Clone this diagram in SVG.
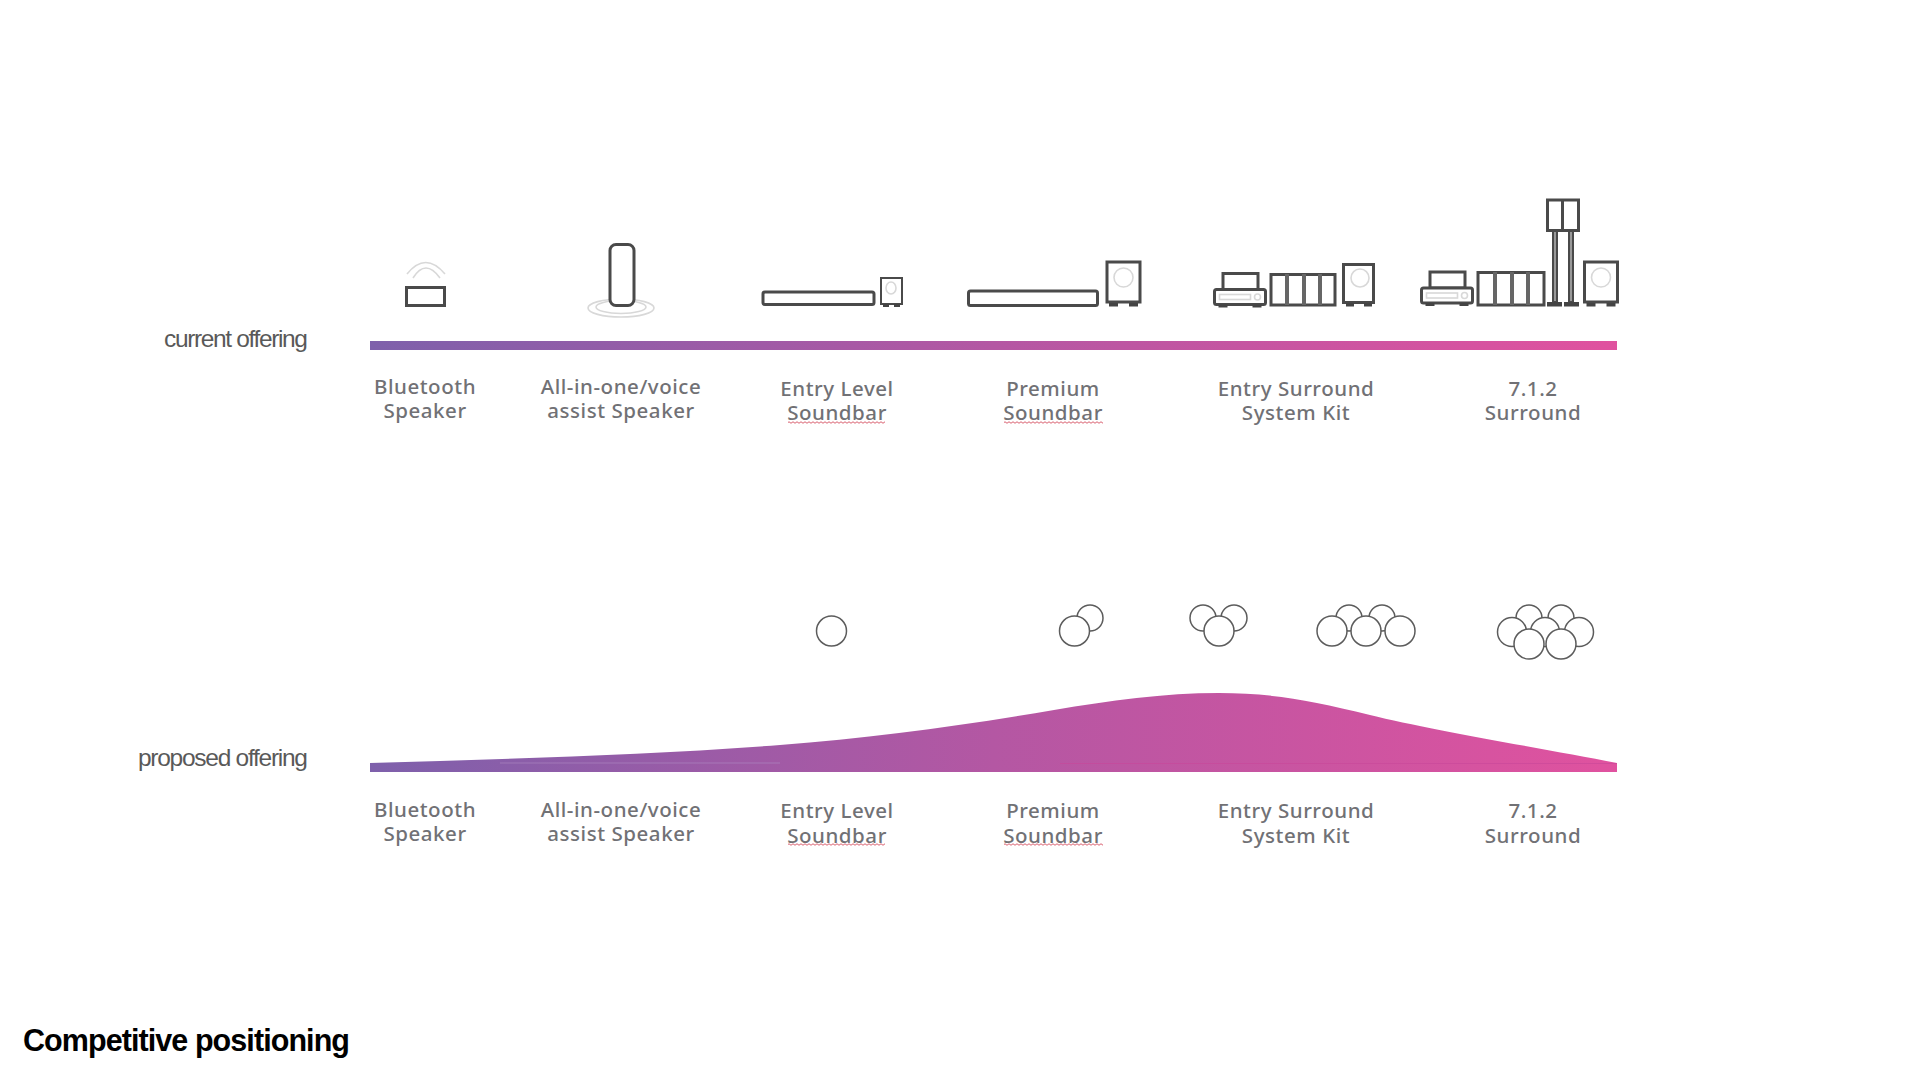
<svg xmlns="http://www.w3.org/2000/svg" width="1920" height="1080" viewBox="0 0 1920 1080">
<style>
.l{font-family:"Noto Sans","Liberation Sans",sans-serif;font-size:20.5px;font-weight:500;letter-spacing:.55px;fill:#717175;text-anchor:middle}
.o{font-family:"Liberation Sans",Arial,sans-serif;font-size:24.5px;fill:#595959;text-anchor:end}
.i{fill:#fff;stroke:#4a4a4a;stroke-width:3}
.d{fill:none;stroke:#666;stroke-width:4}
.g{fill:none;stroke:#d8d8d8;stroke-width:1.6}
.c{fill:#fff;stroke:#5c5c5c;stroke-width:1.5}
.f{fill:#444}
</style>
<defs>
<linearGradient id="bar" gradientUnits="userSpaceOnUse" x1="370" y1="0" x2="1617" y2="0">
<stop offset="0" stop-color="#7e60ab"/><stop offset=".5" stop-color="#b457a3"/><stop offset="1" stop-color="#e0529f"/>
</linearGradient>
<pattern id="wave" patternUnits="userSpaceOnUse" x="0" y="421" width="4" height="3"><path d="M0 1.500Q1 0 2 1.500T4 1.500" fill="none" stroke="#d9606f" stroke-width="1"/></pattern>
<pattern id="wave2" patternUnits="userSpaceOnUse" x="0" y="843" width="4" height="3"><path d="M0 1.500Q1 0 2 1.500T4 1.500" fill="none" stroke="#d9606f" stroke-width="1"/></pattern>
<g id="sub"><rect class="i" x="0" y="0" width="33" height="40"/><rect class="f" x="2" y="41" width="9" height="3.500"/><rect class="f" x="22" y="41" width="9" height="3.500"/><circle class="g" cx="16.500" cy="15.500" r="9.500"/></g>
<g id="rcv"><rect class="i" x="8.500" y="0" width="35" height="16"/><rect class="i" x="0" y="16" width="51" height="15" rx="2"/><rect class="g" x="5" y="21" width="31" height="5"/><circle class="g" cx="43" cy="23.500" r="3"/><rect class="f" x="4" y="31" width="9" height="3"/><rect class="f" x="38" y="31" width="9" height="3"/></g>
</defs>
<g id="current-bar"><rect x="370" y="341" width="1247" height="9" fill="url(#bar)"/></g>
<g id="proposed-bar"><path d="M370 763C507 758.900 643 755.250 780 745C871.300 738.150 962.700 725.500 1054 710C1109 700.650 1164 693 1219 693C1270 693 1310 700 1370 715C1430 730 1540 748 1617 763V772H370Z" fill="url(#bar)"/><path d="M1060 763.500H1617" stroke="#c9479a" stroke-width="1" opacity=".6"/><path d="M500 763H780" stroke="#b08cc4" stroke-width="1" opacity=".6"/></g>

<g id="label-current"><text class="o" x="308" y="346.500" textLength="144" lengthAdjust="spacing">current offering</text></g>
<g id="label-proposed"><text class="o" x="308" y="765.500" textLength="170" lengthAdjust="spacing">proposed offering</text></g>
<g id="title"><text x="23" y="1050.500" font-family="Liberation Sans,Arial,sans-serif" font-weight="700" font-size="30.500" fill="#000" textLength="327" lengthAdjust="spacing">Competitive positioning</text></g>

<g id="icon-bluetooth"><rect class="i" x="406.500" y="287.500" width="38" height="18"/><path class="g" d="M407 274Q425.500 251 445 274M413 278Q425.500 258 440 278"/></g>
<g id="icon-voice"><ellipse class="g" cx="621" cy="308" rx="33" ry="9"/><ellipse class="g" cx="621" cy="307" rx="25" ry="6.500"/><rect class="i" x="610" y="244.500" width="24" height="61" rx="6"/></g>
<g id="icon-entry-bar"><rect class="i" x="763" y="292" width="111" height="12.500" rx="2"/><rect x="881" y="278" width="21" height="26" fill="#fff" stroke="#4a4a4a" stroke-width="2"/><rect class="f" x="883" y="304" width="6" height="3"/><rect class="f" x="894" y="304" width="6" height="3"/><ellipse class="g" cx="891" cy="288" rx="5" ry="6"/></g>
<g id="icon-premium"><rect class="i" x="968.500" y="291" width="129" height="14.500" rx="2"/><use href="#sub" x="1107" y="262"/></g>
<g id="icon-surround"><use href="#rcv" x="1214.500" y="273.500"/><rect class="i" x="1271" y="274.500" width="64" height="30.500"/><path class="d" d="M1287 274V305M1304 274V305M1320 274V305"/><rect class="i" x="1343.500" y="264.500" width="30" height="38"/><rect class="f" x="1346" y="303" width="8" height="3.500"/><rect class="f" x="1364" y="303" width="8" height="3.500"/><circle class="g" cx="1360" cy="278" r="9"/></g>
<g id="icon-712"><use href="#rcv" x="1421.500" y="272"/><rect class="i" x="1478" y="272.500" width="66" height="32.500"/><path class="d" d="M1495 272V305M1512 272V305M1528 272V305"/><rect class="i" x="1547.500" y="200" width="31" height="30.500"/><path d="M1562.500 200V231" stroke="#4a4a4a" stroke-width="3"/><rect x="1553" y="231" width="4" height="71" fill="#999" stroke="#4a4a4a" stroke-width="2"/><rect x="1569" y="231" width="4" height="71" fill="#999" stroke="#4a4a4a" stroke-width="2"/><rect class="f" x="1547" y="302" width="15" height="4.500"/><rect class="f" x="1564" y="302" width="15" height="4.500"/><use href="#sub" x="1584.500" y="262"/></g>

<g id="labels-current">
<text class="l"><tspan x="425" y="393.500">Bluetooth</tspan><tspan x="425" y="418">Speaker</tspan></text>
<text class="l"><tspan x="621" y="393.500">All-in-one/voice</tspan><tspan x="621" y="418">assist Speaker</tspan></text>
<text class="l"><tspan x="837" y="395.500">Entry Level</tspan><tspan x="837" y="420">Soundbar</tspan></text>
<text class="l"><tspan x="1053" y="395.500">Premium</tspan><tspan x="1053" y="420">Soundbar</tspan></text>
<text class="l"><tspan x="1296" y="395.500">Entry Surround</tspan><tspan x="1296" y="420">System Kit</tspan></text>
<text class="l"><tspan x="1533" y="395.500">7.1.2</tspan><tspan x="1533" y="420">Surround</tspan></text>
</g>
<g id="labels-proposed">
<text class="l"><tspan x="425" y="816.500">Bluetooth</tspan><tspan x="425" y="841">Speaker</tspan></text>
<text class="l"><tspan x="621" y="816.500">All-in-one/voice</tspan><tspan x="621" y="841">assist Speaker</tspan></text>
<text class="l"><tspan x="837" y="818">Entry Level</tspan><tspan x="837" y="842.500">Soundbar</tspan></text>
<text class="l"><tspan x="1053" y="818">Premium</tspan><tspan x="1053" y="842.500">Soundbar</tspan></text>
<text class="l"><tspan x="1296" y="818">Entry Surround</tspan><tspan x="1296" y="842.500">System Kit</tspan></text>
<text class="l"><tspan x="1533" y="818">7.1.2</tspan><tspan x="1533" y="842.500">Surround</tspan></text>
</g>
<g id="underlines"><rect x="788" y="421" width="97" height="3" fill="url(#wave)"/><rect x="1004" y="421" width="99" height="3" fill="url(#wave)"/><rect x="788" y="843" width="97" height="3" fill="url(#wave2)"/><rect x="1004" y="843" width="99" height="3" fill="url(#wave2)"/></g>

<g id="dots-1"><circle class="c" cx="831.500" cy="631" r="15"/></g>
<g id="dots-2"><circle class="c" cx="1090" cy="618" r="13"/><circle class="c" cx="1074.500" cy="631" r="15"/></g>
<g id="dots-3"><circle class="c" cx="1203" cy="618" r="13"/><circle class="c" cx="1234" cy="618" r="13"/><circle class="c" cx="1219" cy="631" r="15"/></g>
<g id="dots-5"><circle class="c" cx="1349" cy="618" r="13"/><circle class="c" cx="1382" cy="618" r="13"/><circle class="c" cx="1332" cy="631" r="15"/><circle class="c" cx="1366" cy="631" r="15"/><circle class="c" cx="1400" cy="631" r="15"/></g>
<g id="dots-7"><circle class="c" cx="1529" cy="618" r="13"/><circle class="c" cx="1561" cy="618" r="13"/><circle class="c" cx="1512" cy="632" r="14.500"/><circle class="c" cx="1545" cy="632" r="14.500"/><circle class="c" cx="1579" cy="632" r="14.500"/><circle class="c" cx="1529" cy="644" r="15"/><circle class="c" cx="1561" cy="644" r="15"/></g>
</svg>
